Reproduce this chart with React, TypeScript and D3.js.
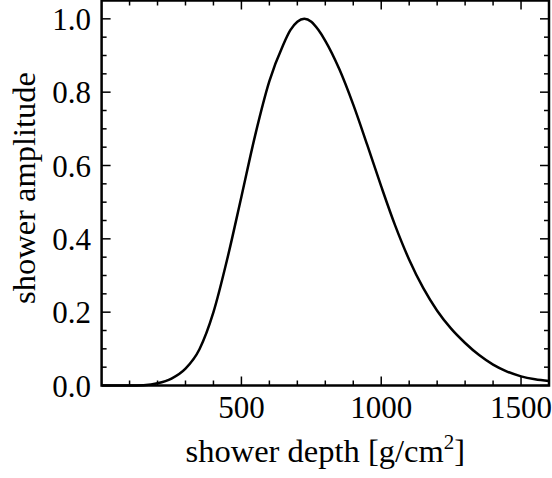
import React from "react";
import * as d3 from "d3";

const depth = [0, 100, 150, 200, 250, 300, 350, 400, 450, 500, 550, 600, 650, 675, 700, 725, 750, 775, 800, 850, 900, 950, 1000, 1050, 1100, 1150, 1200, 1250, 1300, 1350, 1400, 1450, 1500, 1550, 1600];
const amplitude = [0, 0, 0.001, 0.006, 0.019, 0.046, 0.099, 0.200, 0.347, 0.515, 0.685, 0.830, 0.930, 0.969, 0.992, 1.0, 0.992, 0.970, 0.940, 0.863, 0.766, 0.656, 0.543, 0.436, 0.343, 0.266, 0.204, 0.155, 0.116, 0.083, 0.057, 0.038, 0.025, 0.017, 0.012];
const xMajorTicks = [500, 1000, 1500];
const yMajorTicks = [0, 0.2, 0.4, 0.6, 0.8, 1.0];

const W = 552, H = 478;
const L = 101.6, R = 549, T = 0.5, B = 385.5;
const FONT = "'Liberation Serif', 'DejaVu Serif', serif";

export default function App() {
  const x = d3.scaleLinear().domain([0, 1600]).range([L, R]);
  const y = d3.scaleLinear().domain([0, 1.05]).range([B, T]);
  const pts = depth.map((d, i) => [d, amplitude[i]] as [number, number]);
  const line = d3.line<[number, number]>().x(d => x(d[0])).y(d => y(d[1])).curve(d3.curveMonotoneX);
  const xMinor = d3.range(100, 1600, 100).filter(v => v % 500 !== 0);
  const yMinor = d3.range(1, 21).map(i => i * 0.05).filter(v => Math.abs(v * 5 - Math.round(v * 5)) > 1e-6);
  const maj = 9, mn = 5;
  return (
    <svg width={W} height={H} style={{ position: "absolute", left: 0, top: 0, background: "#fff" }}>
      <rect x={0} y={0} width={W} height={H} fill="#fff" />
      <path d={line(pts) || ""} fill="none" stroke="#000" strokeWidth={2.5} strokeLinejoin="round" />
      <g stroke="#000" strokeWidth={1.5}>
        {xMajorTicks.map(v => (
          <g key={"xm" + v}>
            <line x1={x(v)} x2={x(v)} y1={B} y2={B - maj} />
            <line x1={x(v)} x2={x(v)} y1={T} y2={T + maj} />
          </g>
        ))}
        {xMinor.map(v => (
          <g key={"xn" + v}>
            <line x1={x(v)} x2={x(v)} y1={B} y2={B - mn} />
            <line x1={x(v)} x2={x(v)} y1={T} y2={T + mn} />
          </g>
        ))}
        {yMajorTicks.map(v => (
          <g key={"ym" + v}>
            <line x1={L} x2={L + maj} y1={y(v)} y2={y(v)} />
            <line x1={R} x2={R - maj} y1={y(v)} y2={y(v)} />
          </g>
        ))}
        {yMinor.map(v => (
          <g key={"yn" + v}>
            <line x1={L} x2={L + mn} y1={y(v)} y2={y(v)} />
            <line x1={R} x2={R - mn} y1={y(v)} y2={y(v)} />
          </g>
        ))}
      </g>
      <rect x={L} y={T} width={R - L} height={B - T} fill="none" stroke="#000" strokeWidth={2.5} />
      <g fontFamily={FONT} fontSize={31} fill="#000">
        {xMajorTicks.map(v => (
          <text key={"xl" + v} x={x(v)} y={418} textAnchor="middle">{v}</text>
        ))}
        {yMajorTicks.map(v => (
          <text key={"yl" + v} x={91} y={y(v) + 11} textAnchor="end">{v.toFixed(1)}</text>
        ))}
        <text x={(L + R) / 2} y={462} textAnchor="middle" fontSize={32.5}>
          shower depth [g/cm<tspan dy={-13} fontSize={21}>2</tspan><tspan dy={13}>]</tspan>
        </text>
        <text transform={`translate(35, ${(T + B) / 2 - 5}) rotate(-90)`} textAnchor="middle" fontSize={32.5}>shower amplitude</text>
      </g>
    </svg>
  );
}
